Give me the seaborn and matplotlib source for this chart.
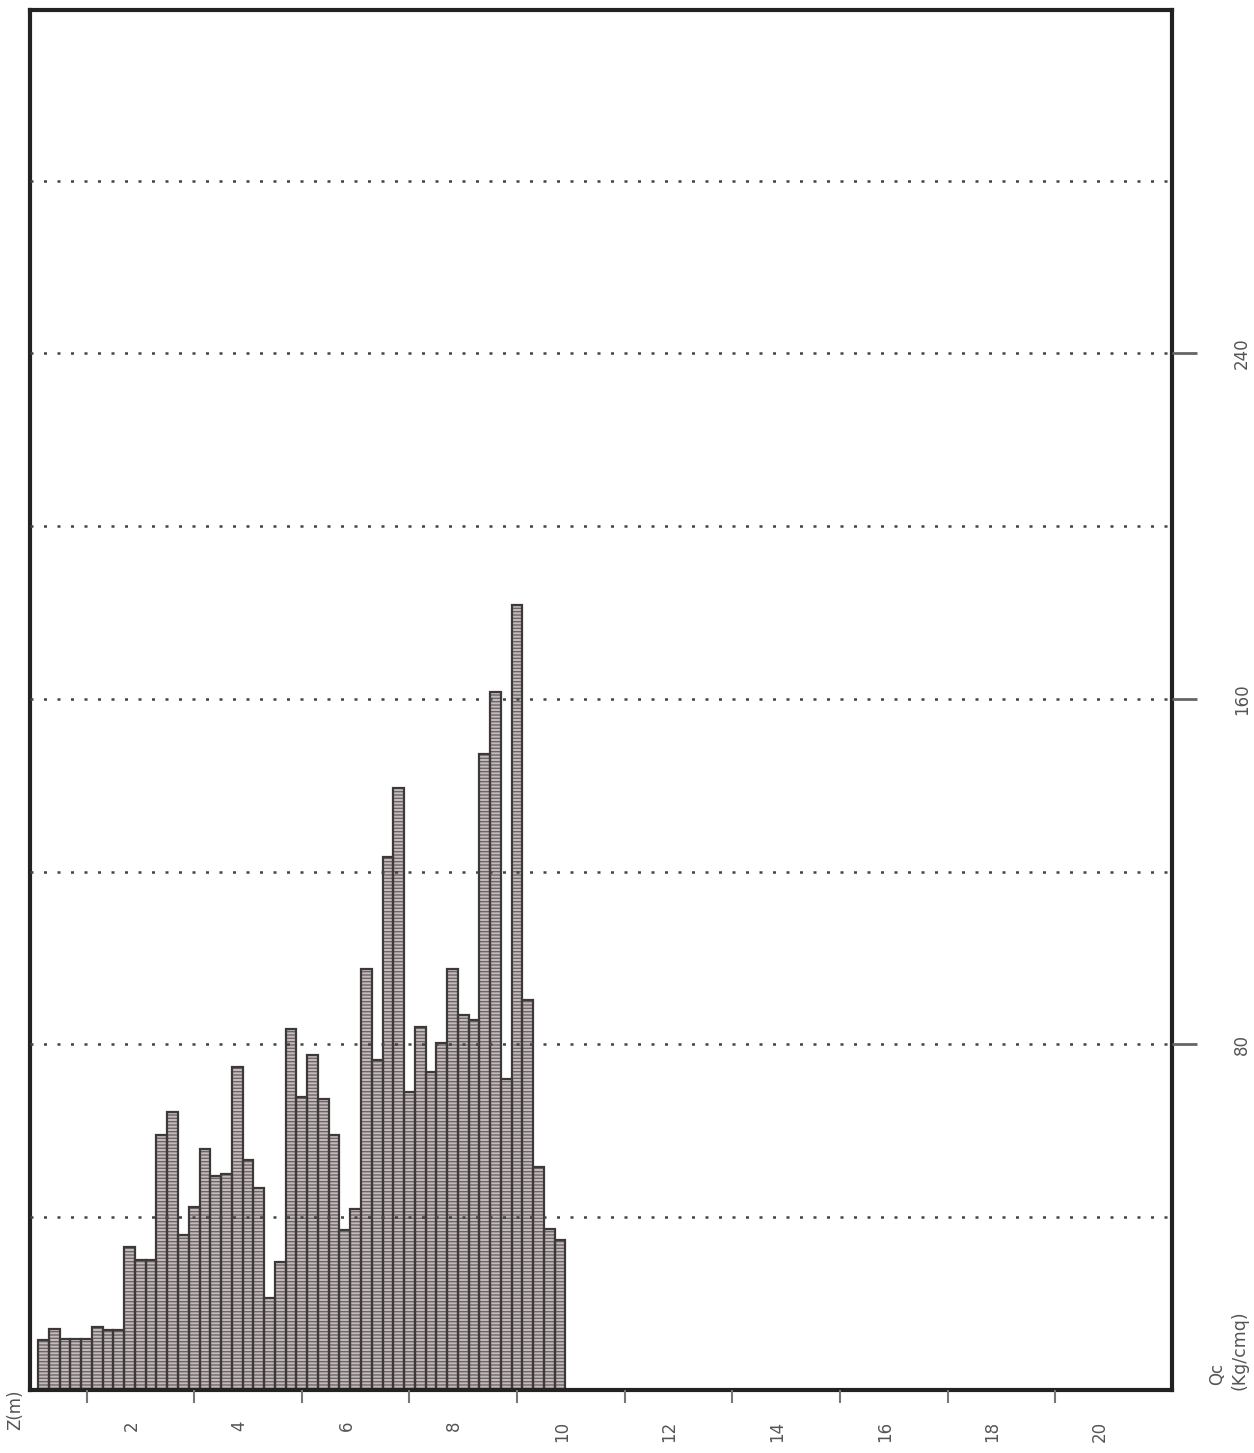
import numpy as np
import pandas as pd
import matplotlib
matplotlib.use("Agg")
import matplotlib.pyplot as plt
import matplotlib.transforms as mtransforms
import seaborn as sns

# ---- data ----
depth_m = [0.2, 0.4, 0.6, 0.8, 1.0, 1.2, 1.4, 1.6, 1.8, 2.0,
           2.2, 2.4, 2.6, 2.8, 3.0, 3.2, 3.4, 3.6, 3.8, 4.0,
           4.2, 4.4, 4.6, 4.8, 5.0, 5.2, 5.4, 5.6, 5.8, 6.0,
           6.2, 6.4, 6.6, 6.8, 7.0, 7.2, 7.4, 7.6, 7.8, 8.0,
           8.2, 8.4, 8.6, 8.8, 9.0, 9.2, 9.4, 9.6, 9.8]
qc_kg_cmq = [11.6, 14.1, 11.8, 11.8, 11.8, 14.6, 13.9, 13.9, 33.1, 30.1,
             30.1, 59.0, 64.4, 35.9, 42.4, 55.8, 49.5, 50.0, 74.8, 53.2,
             46.8, 21.3, 29.6, 83.6, 67.8, 77.5, 67.4, 59.0, 37.0, 41.9,
             97.5, 76.4, 123.4, 139.4, 69.0, 84.0, 73.6, 80.3, 97.5, 86.8,
             85.6, 147.2, 161.6, 72.0, 181.7, 90.3, 51.6, 37.3, 34.8]
x_major_ticks = [2, 4, 6, 8, 10, 12, 14, 16, 18, 20]
x_minor_ticks = [1, 3, 5, 7, 9, 11, 13, 15, 17, 19]
y_label_ticks = [80, 160, 240]
y_grid_ticks = [40, 120, 200, 280]

df = pd.DataFrame({"Z": depth_m, "Qc": qc_kg_cmq})

sns.set_style("white")
plt.rcParams["font.family"] = ["DejaVu Sans"]
plt.rcParams["hatch.linewidth"] = 1.0

W, H = 1254, 1453
fig = plt.figure(figsize=(W / 100, H / 100), dpi=100)
ax = fig.add_axes([30 / W, 1 - 1390 / H, (1172 - 30) / W, (1390 - 10) / H])

# hatched fill layer
sns.barplot(data=df, x="Z", y="Qc", native_scale=True, orient="x",
            width=1.0, color="#c4bcbc", saturation=1, errorbar=None, ax=ax)
for p in ax.patches:
    p.set_hatch("-----")
    p.set_edgecolor("#6e6666")
    p.set_linewidth(0)
# outline layer
sns.barplot(data=df, x="Z", y="Qc", native_scale=True, orient="x",
            width=1.0, fill=False, color="#3e3939", linewidth=1.6,
            saturation=1, errorbar=None, ax=ax)

ax.set_xlim(-0.05, 21.17)
ax.set_ylim(0, 319.5)

# y axis on the right
ax.yaxis.tick_right()
ax.set_yticks(y_label_ticks)
ax.set_yticklabels([str(v) for v in y_label_ticks], rotation=90,
                   va="center", fontsize=12, color="#555555")
ax.set_yticks(y_grid_ticks, minor=True)
ax.tick_params(axis="y", which="major", direction="out", length=18,
               width=2, color="#666666", pad=26, right=True, left=False)
ax.tick_params(axis="y", which="minor", length=0, right=False, left=False)
ax.yaxis.grid(True, which="both", linestyle=(0, (1.2, 4.2)),
              color="#444444", linewidth=1.8)
ax.xaxis.grid(False)
ax.set_axisbelow(False)

# x axis (depth)
ax.set_xticks(x_major_ticks)
ax.set_xticklabels([str(v) for v in x_major_ticks], rotation=90,
                   fontsize=12, color="#555555", va="top")
ax.set_xticks(x_minor_ticks, minor=True)
ax.tick_params(axis="x", which="major", length=0, pad=22, bottom=True)
ax.tick_params(axis="x", which="minor", direction="out", length=9,
               width=1.5, color="#777777", bottom=True)
shift = mtransforms.ScaledTranslation(-9 / 100, 0, fig.dpi_scale_trans)
for lbl in ax.get_xticklabels():
    lbl.set_transform(lbl.get_transform() + shift)

ax.set_xlabel("")
ax.set_ylabel("")

for s in ax.spines.values():
    s.set_visible(True)
    s.set_linewidth(3)
    s.set_color("#222222")

# axis captions
fig.text(15 / W, 1 - 1410 / H, "Z(m)", rotation=90, ha="center",
         va="center", fontsize=12, color="#555555")
fig.text(1217 / W, 1 - 1374 / H, "Qc", rotation=90, ha="center",
         va="center", fontsize=12, color="#555555")
fig.text(1240 / W, 1 - 1350 / H, "(Kg/cmq)", rotation=90, ha="center",
         va="center", fontsize=12.5, color="#555555")

fig.savefig("out.png", dpi=100, facecolor="white")
